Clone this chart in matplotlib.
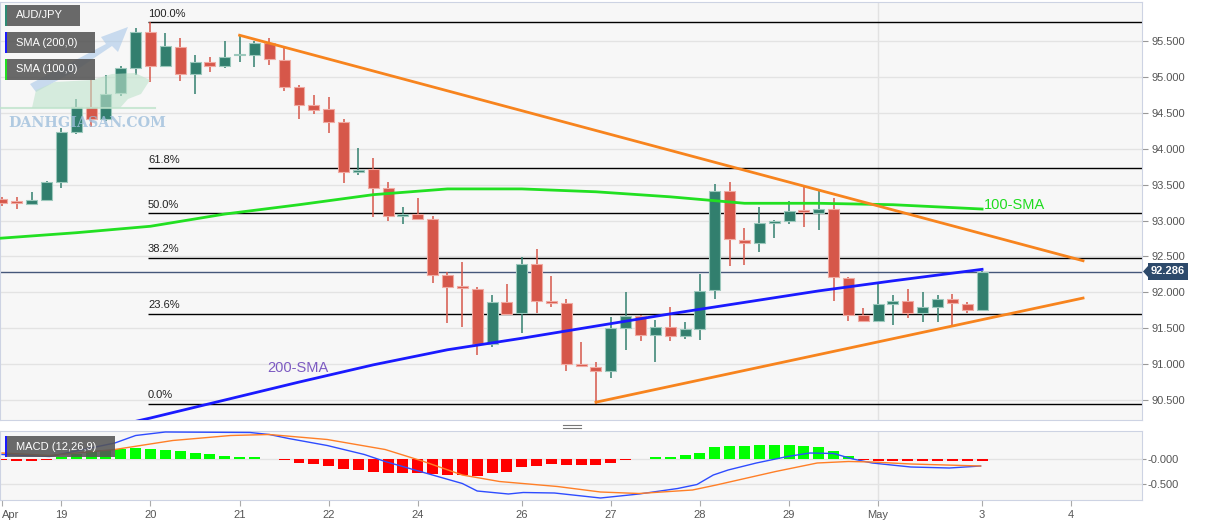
import matplotlib
matplotlib.use("Agg")
import matplotlib.pyplot as plt
from matplotlib.patches import Rectangle, Polygon
from matplotlib.lines import Line2D

plt.rcParams['font.family'] = ['Liberation Sans', 'DejaVu Sans']

# AUD/JPY 4h candles
opens = [93.30, 93.26, 93.23, 93.29, 93.54, 94.23, 94.58, 94.41, 94.78, 95.12,
         95.62, 95.15, 95.42, 95.04, 95.21, 95.15, 95.30, 95.30, 95.47, 95.24,
         94.86, 94.61, 94.55, 94.37, 93.68, 93.72, 93.45, 93.06, 93.09, 93.02,
         92.24, 92.07, 92.05, 91.28, 91.86, 91.71, 92.39, 91.88, 91.85, 90.99,
         90.96, 90.90, 91.50, 91.67, 91.41, 91.52, 91.39, 91.49, 92.03, 93.41,
         92.73, 92.69, 92.97, 92.99, 93.13, 93.10, 93.16, 92.20, 91.68, 91.60,
         91.84, 91.88, 91.71, 91.80, 91.91, 91.84, 91.75]
highs = [93.33, 93.33, 93.40, 93.55, 94.29, 94.69, 94.96, 95.03, 95.15, 95.68,
         95.76, 95.61, 95.54, 95.30, 95.28, 95.50, 95.58, 95.50, 95.54, 95.40,
         94.89, 94.75, 94.72, 94.41, 94.01, 93.87, 93.54, 93.19, 93.31, 93.06,
         92.28, 92.42, 92.07, 91.96, 92.12, 92.49, 92.60, 92.23, 91.91, 91.31,
         91.03, 91.66, 92.00, 91.68, 91.61, 91.80, 91.59, 92.25, 93.51, 93.54,
         92.90, 93.19, 93.01, 93.27, 93.47, 93.41, 93.31, 92.21, 91.78, 92.14,
         91.96, 92.05, 92.01, 91.96, 91.98, 91.87, 92.29]
lows = [93.20, 93.16, 93.22, 93.27, 93.45, 94.20, 94.30, 94.39, 94.73, 95.03,
        94.93, 95.14, 94.94, 94.76, 95.07, 95.12, 95.21, 95.14, 95.17, 94.80,
        94.41, 94.48, 94.22, 93.52, 93.63, 93.05, 92.99, 92.95, 93.01, 92.13,
        91.57, 91.52, 91.13, 91.24, 91.68, 91.43, 91.71, 91.80, 90.90, 90.96,
        90.45, 90.81, 91.20, 91.32, 91.03, 91.32, 91.35, 91.34, 91.91, 92.37,
        92.38, 92.56, 92.76, 92.95, 92.91, 92.87, 91.88, 91.60, 91.59, 91.60,
        91.54, 91.64, 91.59, 91.59, 91.52, 91.71, 91.74]
closes = [93.24, 93.24, 93.29, 93.54, 94.23, 94.58, 94.41, 94.76, 95.12, 95.62,
          95.15, 95.43, 95.04, 95.21, 95.15, 95.28, 95.31, 95.47, 95.25, 94.86,
          94.61, 94.54, 94.37, 93.68, 93.71, 93.45, 93.06, 93.08, 93.02, 92.24,
          92.07, 92.06, 91.28, 91.86, 91.70, 92.39, 91.88, 91.85, 91.00, 90.97,
          90.90, 91.50, 91.67, 91.41, 91.52, 91.39, 91.49, 92.02, 93.41, 92.74,
          92.69, 92.97, 92.99, 93.13, 93.12, 93.16, 92.21, 91.68, 91.60, 91.84,
          91.88, 91.71, 91.80, 91.91, 91.85, 91.75, 92.286]

sma100_x = [-1, 5, 10, 15, 20, 25, 30, 35, 40, 45, 50, 55, 60, 66]
sma100 = [92.74, 92.83, 92.92, 93.09, 93.22, 93.36, 93.44, 93.44, 93.40, 93.33,
          93.24, 93.24, 93.22, 93.16]
sma200_x = [7, 10, 15, 20, 25, 30, 35, 40, 45, 50, 55, 60, 66]
sma200 = [90.11, 90.25, 90.50, 90.75, 90.99, 91.20, 91.36, 91.53, 91.70, 91.86,
          92.02, 92.16, 92.32]

upper_x, upper_y = [16, 72.8], [95.58, 92.44]
lower_x, lower_y = [40, 72.8], [90.47, 91.92]

fib_high, fib_low = 95.76, 90.45
fib_ratios = [1.0, 0.618, 0.5, 0.382, 0.236, 0.0]
fib_labels = ['100.0%', '61.8%', '50.0%', '38.2%', '23.6%', '0.0%']
fib_start = 9.83
last_price = 92.286

macd_x = [0, 3.2, 7.6, 9.0, 11.0, 16.7, 18.0, 19.3, 21.9, 24.4, 25.8, 28.4, 31.0,
          32.0, 34.1, 35.1, 37.2, 40.3, 42.9, 45.5, 46.8, 47.9, 48.9, 50.8, 52.9,
          54.4, 56.0, 57.3, 58.6, 61.2, 63.8, 65.9]
macd_line = [0.09, 0.05, 0.32, 0.47, 0.54, 0.53, 0.49, 0.41, 0.27, 0.09, -0.05,
             -0.27, -0.49, -0.64, -0.70, -0.67, -0.68, -0.78, -0.70, -0.59, -0.51,
             -0.32, -0.22, -0.08, 0.05, 0.12, 0.11, 0.0, -0.08, -0.16, -0.18, -0.14]
signal_x = [0, 3.2, 7.6, 11.5, 15.4, 18.0, 21.9, 25.8, 28.4, 31.0, 33.5, 37.4,
            40.3, 42.9, 46.5, 48.1, 52.1, 54.9, 57.0, 58.6, 61.2, 65.9]
signal_line = [0.12, 0.07, 0.19, 0.37, 0.47, 0.49, 0.39, 0.19, -0.05, -0.32, -0.45,
               -0.55, -0.66, -0.69, -0.62, -0.52, -0.25, -0.08, -0.05, -0.06,
               -0.10, -0.14]
hist = [-0.02, -0.03, -0.03, -0.02, 0.05, 0.10, 0.16, 0.19, 0.20, 0.22,
        0.20, 0.19, 0.16, 0.13, 0.10, 0.07, 0.05, 0.04, 0.01, -0.02,
        -0.07, -0.10, -0.13, -0.19, -0.22, -0.25, -0.28, -0.28, -0.27, -0.30,
        -0.31, -0.32, -0.33, -0.28, -0.25, -0.16, -0.14, -0.10, -0.12, -0.12,
        -0.12, -0.07, -0.01, 0.01, 0.04, 0.05, 0.08, 0.13, 0.25, 0.27,
        0.27, 0.28, 0.28, 0.28, 0.26, 0.24, 0.16, 0.07, -0.01, -0.03,
        -0.03, -0.03, -0.03, -0.03, -0.03, -0.03, -0.03]

date_pos = [0, 4, 10, 16, 22, 28, 35, 41, 47, 53, 59, 66, 72]
date_labels = ['Apr', '19', '20', '21', '22', '24', '26', '27', '28', '29', 'May', '3', '4']
price_ticks = [90.5, 91.0, 91.5, 92.0, 92.5, 93.0, 93.5, 94.0, 94.5, 95.0, 95.5]

W, H = 1207, 526
fig = plt.figure(figsize=(W / 100, H / 100), dpi=100)


def box(l, t, r, b):
    return [l / W, 1 - b / H, (r - l) / W, (b - t) / H]


def pt(x, y):
    return [x / W, 1 - y / H]


ax = fig.add_axes(box(0, 2, 1142, 420))
am = fig.add_axes(box(0, 431, 1142, 500), sharex=ax)
border = '#cdd3e3'
for a in (ax, am):
    a.set_facecolor('#f7f7f7')
    for s in a.spines.values():
        s.set_color(border)
    a.yaxis.tick_right()
    a.set_axisbelow(True)
    a.axvline(59, color='#e2e2e2', lw=1, zorder=0)

ax.set_xlim(-0.135, 76.77)
ax.set_ylim(90.222, 96.043)

# candles
up_col, dn_col = '#327f6e', '#d6574a'
for i in range(len(opens)):
    o, h, l, c = opens[i], highs[i], lows[i], closes[i]
    up = c >= o
    col = up_col if up else dn_col
    edge = '#9cc8bc' if up else '#f0aaa2'
    ax.vlines(i, l, h, color=col, lw=1.1, zorder=3)
    ax.add_patch(Rectangle((i - 0.37, min(o, c)), 0.74, max(abs(c - o), 0.025),
                           fc=col, ec=edge, lw=0.8, zorder=4))

# fibonacci
for r, lbl in zip(fib_ratios, fib_labels):
    lvl = fib_low + r * (fib_high - fib_low)
    ax.hlines(lvl, fib_start, 80, color='black', lw=1, zorder=2)
    ax.annotate(lbl, (fib_start, lvl), xytext=(0, 2.5), textcoords='offset points',
                fontsize=8, color='#222222', va='bottom', ha='left')

ax.axhline(last_price, color='#45577a', lw=1, zorder=2)

ax.plot(sma100_x, sma100, color='#22e022', lw=2, zorder=5)
ax.plot(sma200_x, sma200, color='#1a1aff', lw=2, zorder=5)
ax.plot(upper_x, upper_y, color='#f7841e', lw=2, zorder=6)
ax.plot(lower_x, lower_y, color='#f7841e', lw=2, zorder=6)
ax.text(66.1, 93.22, '100-SMA', color='#1fdc1f', fontsize=10.5, va='center', ha='left', zorder=7)
ax.text(19.9, 90.95, '200-SMA', color='#7d5bc2', fontsize=10.5, va='center', ha='center', zorder=7)

ax.set_yticks(price_ticks)
ax.set_yticklabels([f'{v:.3f}' for v in price_ticks])
ax.tick_params(axis='y', length=4, color='#999999', labelcolor='#555555', labelsize=8, pad=3)
ax.tick_params(axis='x', bottom=False, labelbottom=False)
ax.grid(axis='y', color='#e3e3e3', lw=1)

# MACD panel
am.set_ylim(-0.82, 0.56)
am.bar(range(len(hist)), hist, width=0.74, color=['#00ff00' if v > 0 else '#ff0000' for v in hist], zorder=2)
am.plot(macd_x, macd_line, color='#2e4cff', lw=1, zorder=3)
am.plot(signal_x, signal_line, color='#ff7f27', lw=1, zorder=3)
am.set_yticks([0, -0.5])
am.set_yticklabels(['-0.000', '-0.500'])
am.tick_params(axis='y', length=3, color='#999999', labelcolor='#555555', labelsize=8, pad=1)
am.grid(axis='y', color='#e3e3e3', lw=1)
am.set_xticks(date_pos)
am.set_xticklabels(date_labels)
am.tick_params(axis='x', length=4, color='#aaaaaa', labelcolor='#555555', labelsize=8, pad=3)
am.get_xticklabels()[0].set_horizontalalignment('left')
am.set_xlim(-0.135, 76.77)

# price tag
fig.text(1151 / W, 1 - 271.5 / H, '92.286', color='white', fontweight='bold', fontsize=8,
         va='center', ha='left',
         bbox=dict(boxstyle='square,pad=0.3', fc='#2d4a6b', ec='none'))
fig.add_artist(Polygon([pt(1143, 271.5), pt(1148, 266), pt(1148, 277)],
                       closed=True, transform=fig.transFigure, fc='#2d4a6b', ec='none'))

# watermark logo (rough shapes)
fig.add_artist(Polygon([pt(30, 84), pt(70, 63), pt(106, 44), pt(101, 37), pt(128, 27),
                        pt(118, 52), pt(112, 46), pt(75, 71), pt(36, 92)],
                       closed=True, transform=fig.transFigure, fc='#a9c8e8', ec='none',
                       alpha=0.6, zorder=8))
fig.add_artist(Polygon([pt(32, 108), pt(36, 90), pt(55, 82), pt(92, 80), pt(112, 74),
                        pt(135, 73), pt(150, 80), pt(141, 94), pt(128, 99), pt(120, 108)],
                       closed=True, transform=fig.transFigure, fc='#bfe3cc', ec='none',
                       alpha=0.6, zorder=8))
fig.add_artist(Line2D([0, 155 / W], [1 - 108 / H] * 2, color='#bfe3cc', lw=1.5, alpha=0.8, zorder=8))
fig.text(8 / W, 1 - 123 / H, 'DANHGIASAN.COM', color='#9fbfdc', alpha=0.8, fontsize=10.3,
         family='DejaVu Serif', fontweight='bold', va='center', ha='left', zorder=9)

# legend boxes
for (t, b, r, strip, txt) in [(5, 26, 80, '#2e8b74', 'AUD/JPY'),
                              (32, 53, 95, '#1a1aff', 'SMA (200,0)'),
                              (59, 80, 95, '#22e022', 'SMA (100,0)'),
                              (436, 457, 115, '#1a1aff', 'MACD (12,26,9)')]:
    fig.add_artist(Rectangle((5 / W, 1 - b / H), (r - 5) / W, (b - t) / H,
                             transform=fig.transFigure, fc='#555555', alpha=0.88, ec='none', zorder=10))
    fig.add_artist(Rectangle((5 / W, 1 - b / H), 2 / W, (b - t) / H,
                             transform=fig.transFigure, fc=strip, ec='none', zorder=11))
    fig.text(16 / W, 1 - (t + b) / 2 / H, txt, color='white', fontsize=8, va='center',
             ha='left', zorder=12)

# pane separator handle
for yy in (425, 428):
    fig.add_artist(Line2D([563 / W, 581 / W], [1 - yy / H] * 2, color='#777777', lw=0.8))

fig.savefig('out.png', dpi=100, facecolor='white')
